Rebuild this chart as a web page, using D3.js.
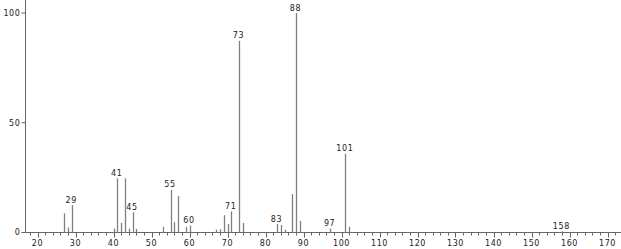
<!DOCTYPE html>
<html>
<head>
<meta charset="utf-8">
<script src="https://cdn.jsdelivr.net/npm/d3@7"></script>
<style>
  body { margin: 0; background: #fff; }
  text { font-family: "DejaVu Sans", sans-serif; font-size: 8px; fill: #222; letter-spacing: 0.6px; }
</style>
</head>
<body>
<div id="chart"></div>
<script>
// m/z values and relative intensities
var mz = [27, 28, 29, 40, 41, 42, 43, 44, 45, 46, 53, 55, 56, 57, 59, 60,
          67, 68, 69, 70, 71, 73, 74, 83, 84, 85, 87, 88, 89, 97, 101, 102, 158];
var intensity = [8.7, 2.3, 12.5, 1.8, 24.7, 4.4, 24.7, 1.8, 9.3, 1.6, 2.6, 19.4, 4.7, 16.6, 2.6, 3.2,
                 1.3, 1.5, 7.9, 3.8, 9.6, 87.3, 4.4, 3.8, 3.4, 1.3, 17.5, 100, 5.3, 1.8, 35.9, 2.6, 0.6];
var labelled = [29, 41, 45, 55, 60, 71, 73, 83, 88, 97, 101, 158];
var yTicks = [0, 50, 100];
var xTicks = [20, 30, 40, 50, 60, 70, 80, 90, 100, 110, 120, 130, 140, 150, 160, 170];

var width = 621, height = 249;
var svg = d3.select("#chart").append("svg")
  .attr("width", width)
  .attr("height", height);

var x = d3.scaleLinear()
  .domain([20, 170])
  .range([37.5, 607.5]);
var y = d3.scaleLinear()
  .domain([0, 100])
  .range([232.5, 13]);

var axisX0 = 25.5;
var baseY = y(0);

// y axis
var yAxis = svg.append("g").attr("transform", "translate(" + axisX0 + ",0)");
yAxis.append("line")
  .attr("x1", 0).attr("x2", 0)
  .attr("y1", 0).attr("y2", baseY)
  .attr("stroke", "#666");
yAxis.selectAll(".yt")
  .data(yTicks)
  .enter().append("line")
   .attr("x1", -4).attr("x2", 0)
   .attr("y1", function(d) { return y(d); })
   .attr("y2", function(d) { return y(d); })
   .attr("stroke", "#666");
yAxis.selectAll(".yl")
  .data(yTicks)
  .enter().append("text")
   .attr("x", -5)
   .attr("y", function(d) { return y(d); })
   .attr("dy", "0.35em")
   .attr("text-anchor", "end")
   .text(function(d) { return d; });

// x axis
var xAxis = svg.append("g");
xAxis.append("line")
  .attr("x1", axisX0).attr("x2", width)
  .attr("y1", baseY).attr("y2", baseY)
  .attr("stroke", "#666");
var minor = d3.range(18, 174, 2).filter(function(d) { return d % 10 != 0 && x(d) > axisX0; });
xAxis.selectAll(".minor")
  .data(minor)
  .enter().append("line")
   .attr("x1", function(d) { return Math.round(x(d)) + 0.5; })
   .attr("x2", function(d) { return Math.round(x(d)) + 0.5; })
   .attr("y1", baseY).attr("y2", baseY + 3)
   .attr("stroke", "#666");
xAxis.selectAll(".major")
  .data(xTicks)
  .enter().append("line")
   .attr("x1", function(d) { return Math.round(x(d)) + 0.5; })
   .attr("x2", function(d) { return Math.round(x(d)) + 0.5; })
   .attr("y1", baseY).attr("y2", baseY + 5)
   .attr("stroke", "#666");
xAxis.selectAll(".xl")
  .data(xTicks)
  .enter().append("text")
   .attr("x", function(d) { return x(d); })
   .attr("y", 245.5)
   .attr("text-anchor", "middle")
   .text(function(d) { return d; });

// peaks
var peaks = mz.map(function(d, i) { return {mz: d, v: intensity[i]}; });
svg.append("g").selectAll("line")
  .data(peaks)
  .enter().append("line")
   .attr("x1", function(d) { return Math.round(x(d.mz)) + 0.5; })
   .attr("x2", function(d) { return Math.round(x(d.mz)) + 0.5; })
   .attr("y1", baseY)
   .attr("y2", function(d) { return y(d.v); })
   .attr("stroke", "#808080")
   .attr("stroke-width", 1.3);

svg.append("g").selectAll("text")
  .data(peaks.filter(function(d) { return labelled.indexOf(d.mz) >= 0; }))
  .enter().append("text")
   .attr("x", function(d) { return x(d.mz) - 0.5; })
   .attr("y", function(d) { return y(d.v) - 2.5; })
   .attr("text-anchor", "middle")
   .text(function(d) { return d.mz; });
</script>
</body>
</html>
